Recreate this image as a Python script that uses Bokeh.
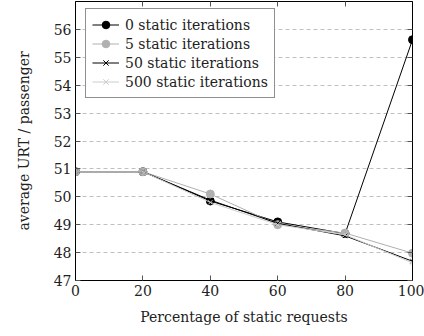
from bokeh.plotting import figure
from bokeh.models import LinearAxis, Legend, LegendItem, FixedTicker, Range1d
from bokeh.embed import file_html
from bokeh.resources import INLINE

# Percentage of requests treated as static
pct_static = [0, 20, 40, 60, 80, 100]

# Average URT per passenger for each number of static iterations
urt_0 = [50.9, 50.9, 49.85, 49.1, 48.68, 55.63]
urt_5 = [50.9, 50.9, 50.1, 49.0, 48.7, 47.98]
urt_50 = [50.9, 50.9, 49.88, 49.05, 48.6, 47.69]
urt_500 = [50.9, 50.9, 49.8, 49.0, 48.64, 47.63]

series_labels = ["0 static iterations", "5 static iterations",
                 "50 static iterations", "500 static iterations"]
x_ticks = [0, 20, 40, 60, 80, 100]
y_ticks = [47, 48, 49, 50, 51, 52, 53, 54, 55, 56]

FONT = "DejaVu Serif"
FSIZE = "14px"

p = figure(width=424, height=336, output_backend="svg", toolbar_location=None,
           x_range=Range1d(0, 100), y_range=Range1d(47, 57),
           min_border_left=75, min_border_right=12, min_border_top=1,
           min_border_bottom=56)

p.outline_line_color = "black"
p.outline_line_width = 1
p.background_fill_color = "white"
p.border_fill_color = "white"

p.xgrid.visible = False
p.ygrid.ticker = FixedTicker(ticks=y_ticks)
p.ygrid.grid_line_color = "#c0c0c0"
p.ygrid.grid_line_dash = "4 3"
p.ygrid.grid_line_width = 1


def style_axis(ax, ticks, show_labels=True):
    ax.ticker = FixedTicker(ticks=ticks)
    ax.major_tick_in = 5
    ax.major_tick_out = 0
    ax.minor_tick_in = 0
    ax.minor_tick_out = 0
    ax.axis_line_color = "black"
    ax.major_tick_line_color = "#555555"
    ax.major_label_text_font = FONT
    ax.major_label_text_font_size = FSIZE
    ax.major_label_text_color = "#222222"
    ax.axis_label_text_font = FONT
    ax.axis_label_text_font_size = FSIZE
    ax.axis_label_text_font_style = "normal"
    ax.axis_label_text_color = "#222222"
    ax.major_label_standoff = 4
    if not show_labels:
        ax.major_label_text_alpha = 0
        ax.major_label_text_font_size = "0px"


style_axis(p.xaxis[0], x_ticks)
style_axis(p.yaxis[0], y_ticks)
p.xaxis[0].axis_label = "Percentage of static requests"
p.yaxis[0].axis_label = "average URT / passenger"
p.xaxis[0].axis_label_standoff = 10
p.yaxis[0].axis_label_standoff = 19

top = LinearAxis()
style_axis(top, x_ticks, show_labels=False)
p.add_layout(top, "above")
right = LinearAxis()
style_axis(right, y_ticks, show_labels=False)
p.add_layout(right, "right")

items = []

l0 = p.line(pct_static, urt_0, line_color="black", line_width=1)
m0 = p.scatter(pct_static, urt_0, marker="circle", size=8,
               fill_color="black", line_color="black")
items.append(LegendItem(label=series_labels[0], renderers=[l0, m0]))

l1 = p.line(pct_static, urt_5, line_color="#b0b0b0", line_width=1)
m1 = p.scatter(pct_static, urt_5, marker="circle", size=8,
               fill_color="#b0b0b0", line_color="#b0b0b0")
items.append(LegendItem(label=series_labels[1], renderers=[l1, m1]))

l2 = p.line(pct_static, urt_50, line_color="black", line_width=1)
m2 = p.scatter(pct_static, urt_50, marker="x", size=6,
               line_color="black", line_width=1)
items.append(LegendItem(label=series_labels[2], renderers=[l2, m2]))

l3 = p.line(pct_static, urt_500, line_color="#cccccc", line_width=1)
m3 = p.scatter(pct_static, urt_500, marker="x", size=6,
               line_color="#cccccc", line_width=1)
items.append(LegendItem(label=series_labels[3], renderers=[l3, m3]))

legend = Legend(items=items, location=(10, 182))
legend.border_line_color = "#222222"
legend.border_line_width = 1
legend.background_fill_color = "white"
legend.background_fill_alpha = 1
legend.label_text_font = FONT
legend.label_text_font_size = FSIZE
legend.label_text_color = "#222222"
legend.glyph_width = 27
legend.glyph_height = 19
legend.label_height = 19
legend.label_standoff = 6
legend.spacing = 0
legend.padding = 6
legend.margin = 0
p.add_layout(legend)

open("out.html", "w").write(file_html(p, INLINE))
